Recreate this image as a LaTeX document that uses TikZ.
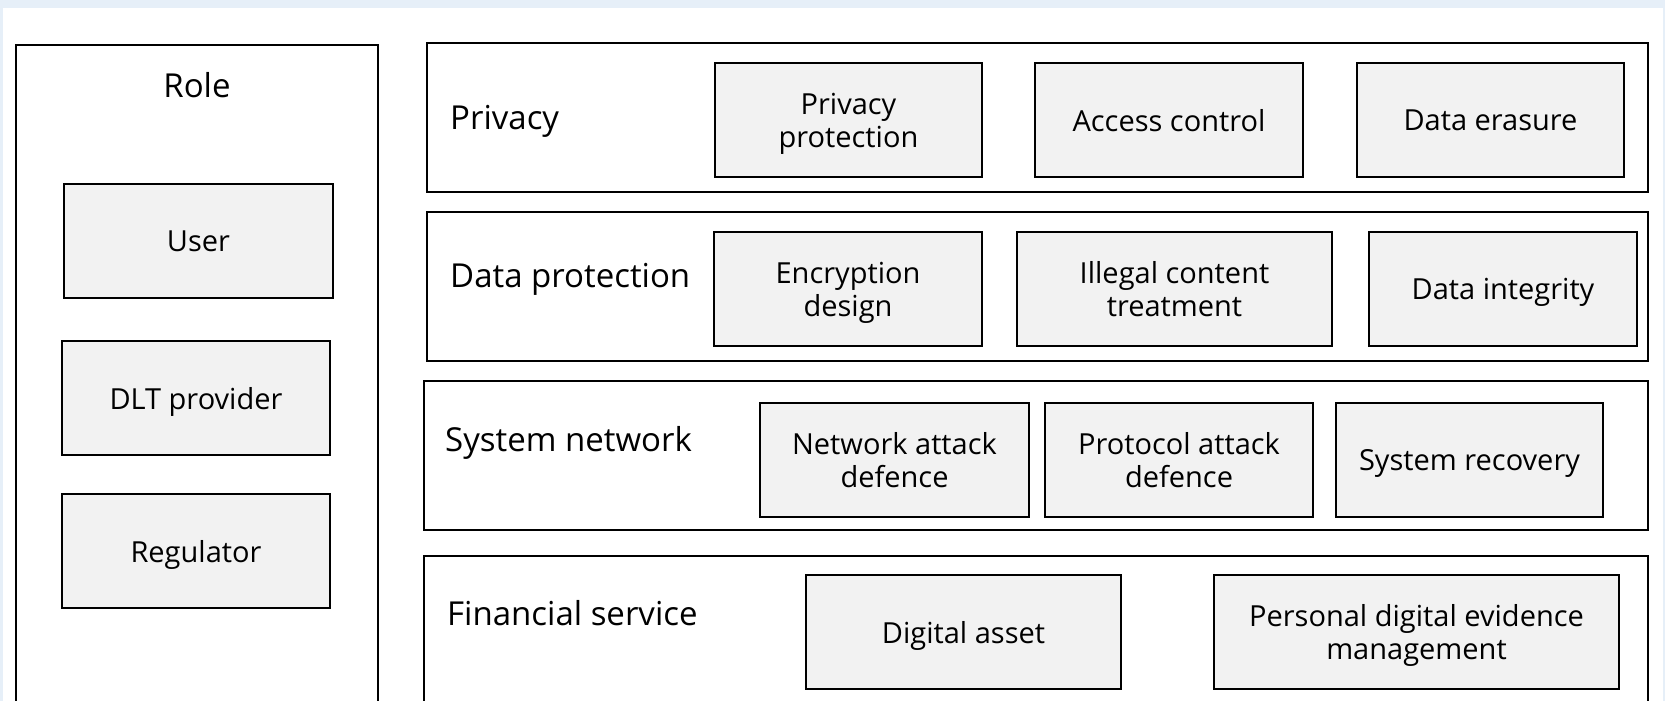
\documentclass[tikz,border=0pt]{standalone}
\usepackage{fontspec}
\setmainfont{Open Sans}
\usepackage{tikz}
\usetikzlibrary{positioning}
\definecolor{bgblue}{RGB}{230, 239, 248}
\definecolor{itemgray}{RGB}{242, 242, 242}
\tikzset{
  layer/.style={draw=black, line width=2pt, fill=white, rectangle, inner sep=0pt},
  item/.style={draw=black, line width=2pt, fill=itemgray, rectangle, inner sep=0pt,
    minimum height=114pt, text depth=0pt, align=center, font=\fontsize{29}{33}\selectfont},
  layerlabel/.style={anchor=base west, inner sep=0pt, font=\fontsize{33}{39}\selectfont}
}

\begin{document}
\begin{tikzpicture}[x=1pt, y=-1pt]
  \useasboundingbox (0, 0) rectangle (1665, 701);
  \clip (0, 0) rectangle (1665, 701);
  \fill[bgblue] (0, 0) rectangle (1665, 701);
  \fill[white] (3, 8) rectangle (1663, 701);

  % Roles
  \node[layer, minimum width=362pt, minimum height=675pt] (role) at (197, 382.5) {};
  \node[layerlabel, anchor=base] (rolelabel) at (197, 97) {Role};
  \node[item, minimum width=269pt] (user) at (198.5, 241) {User};
  \node[item, minimum width=268pt] (dlt) at (196, 398) {DLT provider};
  \node[item, minimum width=268pt] (regulator) at (196, 551) {Regulator};

  % Privacy
  \node[layer, minimum width=1221pt, minimum height=149pt] (privacy) at (1037.5, 117.5) {};
  \node[layerlabel] (privacylabel) at (450, 129) {Privacy};
  \node[item, minimum width=267pt] (privprot) at (848.5, 120) {Privacy\\protection};
  \node[item, minimum width=268pt] (access) at (1169, 120) {Access control};
  \node[item, minimum width=267pt] (erasure) at (1490.5, 120) {Data erasure};

  % Data protection
  \node[layer, minimum width=1221pt, minimum height=149pt] (dataprot) at (1037.5, 286.5) {};
  \node[layerlabel] (dataprotlabel) at (450, 287) {Data protection};
  \node[item, minimum width=268pt] (encrypt) at (848, 289) {Encryption\\design};
  \node[item, minimum width=315pt] (illegal) at (1174.5, 289) {Illegal content\\treatment};
  \node[item, minimum width=268pt] (integrity) at (1503, 289) {Data integrity};

  % System network
  \node[layer, minimum width=1224pt, minimum height=149pt] (sysnet) at (1036, 455.5) {};
  \node[layerlabel] (sysnetlabel) at (445, 451) {System network};
  \node[item, minimum width=269pt] (netattack) at (894.5, 460) {Network attack\\defence};
  \node[item, minimum width=268pt] (protattack) at (1179, 460) {Protocol attack\\defence};
  \node[item, minimum width=267pt] (recovery) at (1469.5, 460) {System recovery};

  % Financial service
  \node[layer, minimum width=1224pt, minimum height=174pt] (finance) at (1036, 643) {};
  \node[layerlabel] (financelabel) at (447, 625) {Financial service};
  \node[item, minimum width=315pt] (asset) at (963.5, 632) {Digital asset};
  \node[item, minimum width=405pt] (evidence) at (1416.5, 632) {Personal digital evidence\\management};
\end{tikzpicture}
\end{document}
